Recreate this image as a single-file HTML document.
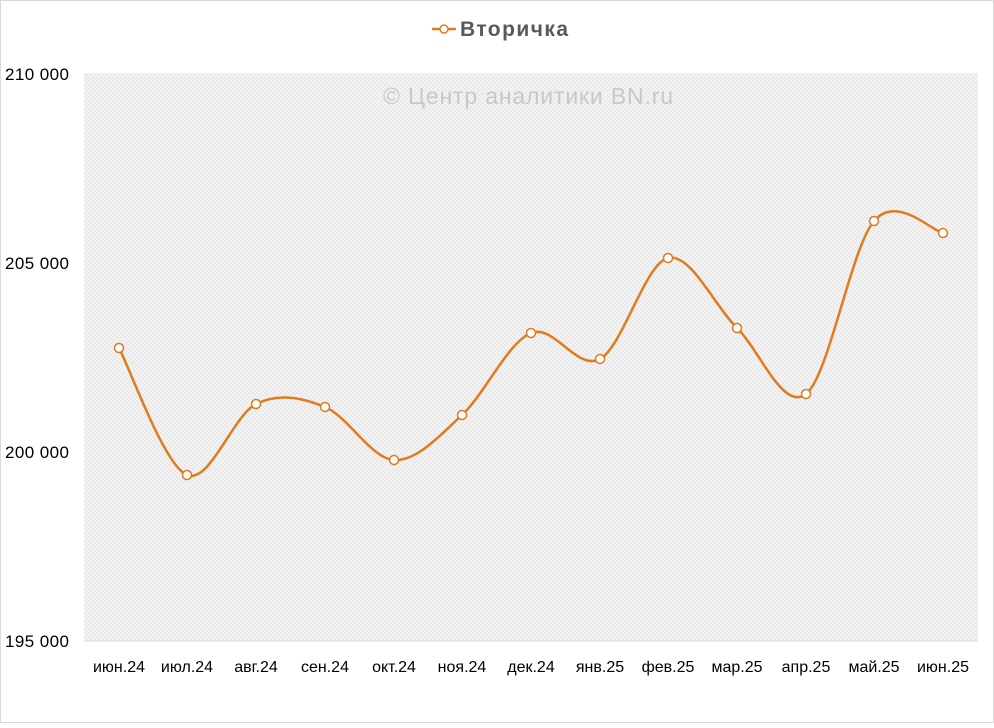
<!DOCTYPE html>
<html><head><meta charset="utf-8"><style>
html,body{margin:0;padding:0;background:#fff;}
body{width:994px;height:723px;overflow:hidden;font-family:"Liberation Sans",sans-serif;}
</style></head><body>
<svg id="s" width="994" height="723" xmlns="http://www.w3.org/2000/svg">
<defs>
<pattern id="h" width="4" height="4" patternUnits="userSpaceOnUse">
<rect width="4" height="4" fill="#f3f3f3"/>
<path d="M0,0 L4,4" stroke="#e2e2e2" stroke-width="0.8"/>
</pattern>
</defs>
<rect x="0.5" y="0.5" width="993" height="722" fill="#fff" stroke="#d9d9d9"/>
<rect x="84" y="73" width="894" height="568" fill="url(#h)"/>
<line x1="84" y1="641" x2="978" y2="641" stroke="#d9d9d9"/>
<text x="528" y="104" font-size="23" fill="#c8c8c8" text-anchor="middle" textLength="290">© Центр аналитики BN.ru</text>
<line x1="432" y1="29" x2="456" y2="29" stroke="#e07b1f" stroke-width="2.5"/>
<circle cx="444" cy="29" r="4" fill="#fff" stroke="#e07b1f" stroke-width="1.5"/>
<text x="460" y="36" font-size="21" font-weight="bold" fill="#595959" textLength="108">Вторичка</text>
<g font-size="17" fill="#000">
<text x="5" y="80" textLength="64">210 000</text>
<text x="5" y="269" textLength="64">205 000</text>
<text x="5" y="458" textLength="64">200 000</text>
<text x="5" y="647" textLength="64">195 000</text>
</g>
<g id="xl" font-size="16" fill="#000" text-anchor="middle"></g>
<path id="p" fill="none" stroke="#e07b1f" stroke-width="2.5"/>
<g id="m"></g>
</svg>
<script>
var xs=[119,187,256,325,394,462,531,600,668,737,806,874,943];
var ys=[348,475,404,407,460,415,333,359,258,328,394,221,233];
var lb=["июн.24","июл.24","авг.24","сен.24","окт.24","ноя.24","дек.24","янв.25","фев.25","мар.25","апр.25","май.25","июн.25"];
var ns="http://www.w3.org/2000/svg";
var d="M"+xs[0]+","+ys[0];
for(var i=0;i<xs.length-1;i++){
 var x0=xs[Math.max(i-1,0)],y0=ys[Math.max(i-1,0)],x1=xs[i],y1=ys[i],x2=xs[i+1],y2=ys[i+1],x3=xs[Math.min(i+2,xs.length-1)],y3=ys[Math.min(i+2,xs.length-1)];
 var t=6;
 d+=" C"+(x1+(x2-x0)/t)+","+(y1+(y2-y0)/t)+" "+(x2-(x3-x1)/t)+","+(y2-(y3-y1)/t)+" "+x2+","+y2;
}
document.getElementById("p").setAttribute("d",d);
var m=document.getElementById("m"),xl=document.getElementById("xl");
for(var i=0;i<xs.length;i++){
 var c=document.createElementNS(ns,"circle");
 c.setAttribute("cx",xs[i]);c.setAttribute("cy",ys[i]);c.setAttribute("r",4.5);
 c.setAttribute("fill","#fff");c.setAttribute("stroke","#e07b1f");c.setAttribute("stroke-width","1.5");
 m.appendChild(c);
 var t=document.createElementNS(ns,"text");
 t.setAttribute("x",xs[i]);t.setAttribute("y",672);t.textContent=lb[i];xl.appendChild(t);
}
</script>
</body></html>
